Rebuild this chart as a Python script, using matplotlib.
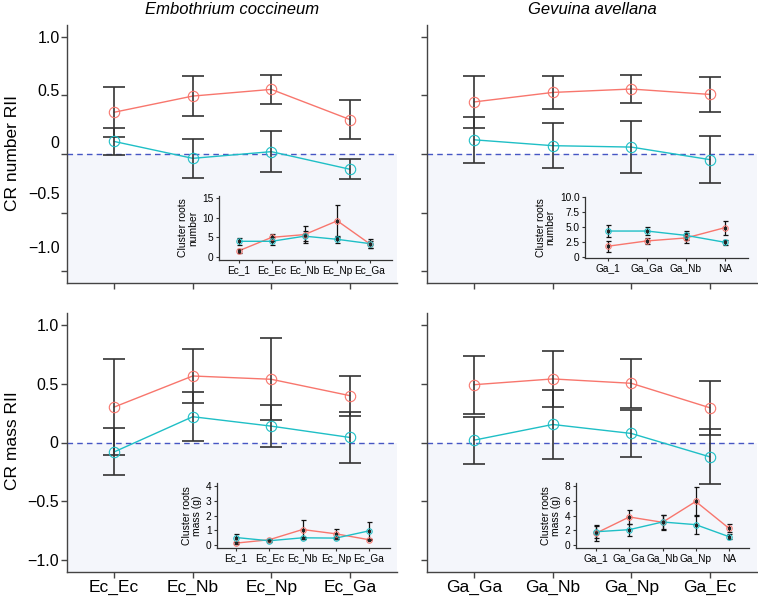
import matplotlib
matplotlib.use("Agg")
import matplotlib.pyplot as plt
import numpy as np

plt.rcParams['font.family'] = ['Liberation Sans', 'DejaVu Sans']

# ---------------- data ----------------
cats_ec = ['Ec_Ec', 'Ec_Nb', 'Ec_Np', 'Ec_Ga']
cats_ga = ['Ga_Ga', 'Ga_Nb', 'Ga_Np', 'Ga_Ec']

num_ec_red = [0.356, 0.494, 0.551, 0.294]
num_ec_red_err = [0.215, 0.167, 0.126, 0.166]
num_ec_blue = [0.107, -0.037, 0.020, -0.130]
num_ec_blue_err = [0.115, 0.165, 0.175, 0.085]

num_ga_red = [0.444, 0.525, 0.554, 0.508]
num_ga_red_err = [0.220, 0.140, 0.119, 0.147]
num_ga_blue = [0.121, 0.071, 0.059, -0.048]
num_ga_blue_err = [0.194, 0.190, 0.220, 0.200]

mass_ec_red = [0.301, 0.565, 0.537, 0.398]
mass_ec_red_err = [0.410, 0.230, 0.350, 0.170]
mass_ec_blue = [-0.080, 0.219, 0.139, 0.043]
mass_ec_blue_err = [0.200, 0.210, 0.180, 0.215]

mass_ga_red = [0.491, 0.540, 0.503, 0.295]
mass_ga_red_err = [0.247, 0.236, 0.210, 0.230]
mass_ga_blue = [0.020, 0.153, 0.077, -0.122]
mass_ga_blue_err = [0.200, 0.294, 0.200, 0.233]

# insets
ins_cats_ec = ['Ec_1', 'Ec_Ec', 'Ec_Nb', 'Ec_Np', 'Ec_Ga']
ins_cats_ga_num = ['Ga_1', 'Ga_Ga', 'Ga_Nb', 'NA']
ins_cats_ga_mass = ['Ga_1', 'Ga_Ga', 'Ga_Nb', 'Ga_Np', 'NA']

ins_num_ec_red = [1.6, 5.0, 5.7, 9.2, 3.3]
ins_num_ec_red_err = [0.5, 0.85, 2.2, 4.0, 0.9]
ins_num_ec_blue = [4.0, 4.0, 5.3, 4.5, 3.4]
ins_num_ec_blue_err = [0.9, 1.0, 1.3, 0.9, 1.1]

ins_num_ga_red = [1.78, 2.67, 3.17, 4.9]
ins_num_ga_red_err = [0.94, 0.55, 0.8, 1.2]
ins_num_ga_blue = [4.33, 4.33, 3.6, 2.44]
ins_num_ga_blue_err = [0.95, 0.6, 0.8, 0.4]

ins_mass_ec_red = [0.13, 0.36, 1.05, 0.76, 0.36]
ins_mass_ec_red_err = [0.05, 0.05, 0.67, 0.36, 0.05]
ins_mass_ec_blue = [0.51, 0.29, 0.49, 0.47, 0.96]
ins_mass_ec_blue_err = [0.27, 0.05, 0.08, 0.08, 0.58]

ins_mass_ga_red = [1.6, 3.8, 3.08, 5.9, 2.26]
ins_mass_ga_red_err = [1.1, 0.9, 1.0, 1.9, 0.55]
ins_mass_ga_blue = [1.8, 2.08, 3.12, 2.76, 1.13]
ins_mass_ga_blue_err = [0.8, 0.8, 1.0, 1.3, 0.36]

main_ticks = [-1.0, -0.5, 0.0, 0.5, 1.0]
main_tick_labels = ['\u22121.0', '\u22120.5', '0', '0.5', '1.0']

RED = '#F8766D'
BLUE = '#1FBFC6'
ERR = '#333333'
SHADE = '#F4F6FB'
DASH = '#4656C4'

W, H = 758, 598
fig = plt.figure(figsize=(W / 100, H / 100), dpi=100)


def px_axes(l, t, r, b):
    return fig.add_axes([l / W, 1 - b / H, (r - l) / W, (b - t) / H])


def style_main(ax, xcats, show_xlabels, show_ylabels):
    ax.set_xlim(0.4, 4.6)
    ax.set_ylim(-1.1, 1.1)
    ax.axhspan(-1.1, 0, color=SHADE, zorder=0, lw=0)
    ax.axhline(0, color=DASH, ls=(0, (4, 3)), lw=1.0, zorder=1)
    for s in ['top', 'right']:
        ax.spines[s].set_visible(False)
    for s in ['left', 'bottom']:
        ax.spines[s].set_color('#444444')
        ax.spines[s].set_linewidth(1.0)
    ax.set_facecolor('white')
    x = np.arange(1, len(xcats) + 1)
    ax.set_xticks(x)
    if show_xlabels:
        ax.set_xticklabels(xcats, fontsize=12.5)
    else:
        ax.set_xticklabels([])
    ax.set_yticks(main_ticks)
    if show_ylabels:
        ax.set_yticklabels(main_tick_labels, fontsize=11.5)
    else:
        ax.set_yticklabels([])
    ax.tick_params(direction='out', length=4, width=1.0, color='#444444', pad=2)


def draw_series(ax, vals, errs, color, ms=7.5, capsize=8, elw=1.2, lw=1.0, mew=0.8, ecol=ERR, cms=0):
    x = np.arange(1, len(vals) + 1)
    ax.plot(x, vals, color=color, lw=lw, zorder=3)
    ax.errorbar(x, vals, yerr=errs, fmt='none', ecolor=ecol, elinewidth=elw,
                capsize=capsize, capthick=elw, zorder=4)
    if cms:
        ax.plot(x, vals, ls='none', marker='s', ms=cms, color='#222222', zorder=4.5)
    ax.plot(x, vals, ls='none', marker='o', ms=ms, mfc='none', mec=color, mew=mew, zorder=5)


def style_inset(ax, cats, ylim, yticks, yticklabels, ylabel):
    ax.set_facecolor('none')
    for s in ['top', 'right']:
        ax.spines[s].set_visible(False)
    for s in ['left', 'bottom']:
        ax.spines[s].set_color('#333333')
        ax.spines[s].set_linewidth(0.9)
    x = np.arange(1, len(cats) + 1)
    ax.set_xticks(x)
    ax.set_xticklabels(cats, fontsize=7.3)
    ax.set_ylim(*ylim)
    ax.set_yticks(yticks)
    ax.set_yticklabels(yticklabels, fontsize=7.3)
    ax.set_ylabel(ylabel, fontsize=7.5, linespacing=0.95, labelpad=3)
    ax.tick_params(direction='out', length=2.5, width=0.8, color='#333333', pad=1.5)


# ---------------- main panels ----------------
ax_tl = px_axes(67, 25, 397, 283)
ax_tr = px_axes(427, 25, 757, 283)
ax_bl = px_axes(67, 313, 397, 572)
ax_br = px_axes(427, 313, 757, 572)

style_main(ax_tl, cats_ec, False, False)
style_main(ax_tr, cats_ga, False, False)
style_main(ax_bl, cats_ec, True, True)
style_main(ax_br, cats_ga, True, False)

# top-left tick labels (offset as in the reference)
tl_label_pos = [-0.805, -0.347, 0.093, 0.534, 0.983]
for lab, yv in zip(main_tick_labels, tl_label_pos):
    ax_tl.text(-0.022, yv, lab, transform=ax_tl.get_yaxis_transform(),
               ha='right', va='center', fontsize=11.5)

draw_series(ax_tl, num_ec_red, num_ec_red_err, RED)
draw_series(ax_tl, num_ec_blue, num_ec_blue_err, BLUE)
draw_series(ax_tr, num_ga_red, num_ga_red_err, RED)
draw_series(ax_tr, num_ga_blue, num_ga_blue_err, BLUE)
draw_series(ax_bl, mass_ec_red, mass_ec_red_err, RED)
draw_series(ax_bl, mass_ec_blue, mass_ec_blue_err, BLUE)
draw_series(ax_br, mass_ga_red, mass_ga_red_err, RED)
draw_series(ax_br, mass_ga_blue, mass_ga_blue_err, BLUE)

fig.text(232 / W, 1 - 9 / H, 'Embothrium coccineum', style='italic',
         ha='center', va='center', fontsize=12)
fig.text(592 / W, 1 - 9 / H, 'Gevuina avellana', style='italic',
         ha='center', va='center', fontsize=12)
fig.text(13 / W, 1 - 153 / H, 'CR number RII', rotation=90,
         ha='center', va='center', fontsize=12.5)
fig.text(13 / W, 1 - 441 / H, 'CR mass RII', rotation=90,
         ha='center', va='center', fontsize=12.5)

# ---------------- insets ----------------
in_tl = px_axes(219, 196, 392, 260)
in_tl.set_xlim(0.39, 5.67)
style_inset(in_tl, ins_cats_ec, (-0.75, 15.5), [0, 5, 10, 15], ['0', '5', '10', '15'],
            'Cluster roots\nnumber')
in_tr = px_axes(585, 197, 748, 258)
in_tr.set_xlim(0.41, 4.59)
style_inset(in_tr, ins_cats_ga_num, (-0.2, 10.05), [0, 2.5, 5, 7.5, 10],
            ['0', '2.5', '5.0', '7.5', '10.0'], 'Cluster roots\nnumber')
in_bl = px_axes(217, 483, 390, 548)
in_bl.set_xlim(0.43, 5.63)
style_inset(in_bl, ins_cats_ec, (-0.2, 4.2), [0, 1, 2, 3, 4], ['0', '1', '2', '3', '4'],
            'Cluster roots\nmass (g)')
in_br = px_axes(576, 483, 749, 548)
in_br.set_xlim(0.4, 5.6)
style_inset(in_br, ins_cats_ga_mass, (-0.4, 8.4), [0, 2, 4, 6, 8], ['0', '2', '4', '6', '8'],
            'Cluster roots\nmass (g)')

ikw = dict(ms=4, capsize=1.8, elw=0.9, lw=1.0, mew=0.7, ecol='#111111', cms=2)
draw_series(in_tl, ins_num_ec_red, ins_num_ec_red_err, RED, **ikw)
draw_series(in_tl, ins_num_ec_blue, ins_num_ec_blue_err, BLUE, **ikw)
draw_series(in_tr, ins_num_ga_red, ins_num_ga_red_err, RED, **ikw)
draw_series(in_tr, ins_num_ga_blue, ins_num_ga_blue_err, BLUE, **ikw)
draw_series(in_bl, ins_mass_ec_red, ins_mass_ec_red_err, RED, **ikw)
draw_series(in_bl, ins_mass_ec_blue, ins_mass_ec_blue_err, BLUE, **ikw)
draw_series(in_br, ins_mass_ga_red, ins_mass_ga_red_err, RED, **ikw)
draw_series(in_br, ins_mass_ga_blue, ins_mass_ga_blue_err, BLUE, **ikw)

fig.savefig('out.png', dpi=100)
